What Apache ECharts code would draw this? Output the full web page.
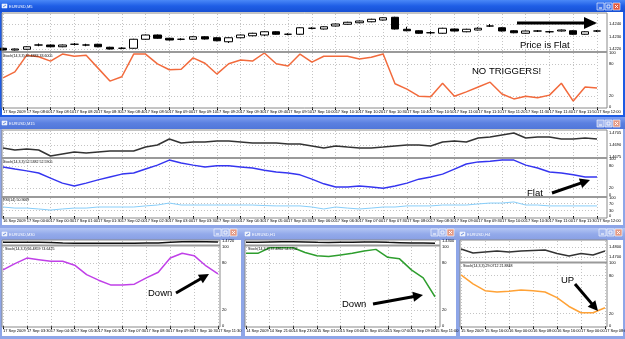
<!DOCTYPE html>
<html><head><meta charset="utf-8">
<script src="https://cdn.jsdelivr.net/npm/echarts@6/dist/echarts.min.js"></script>
<style>html,body{margin:0;padding:0;background:#fff;overflow:hidden}#c{width:625px;height:339px}</style>
</head><body><div id="c"></div>
<script>
// ---------- DATA ----------
const m5Ticks = ['17 Sep 2009','17 Sep 08:00','17 Sep 08:10','17 Sep 08:20','17 Sep 08:30','17 Sep 08:40','17 Sep 08:50','17 Sep 09:00','17 Sep 09:10','17 Sep 09:20','17 Sep 09:30','17 Sep 09:40','17 Sep 09:50','17 Sep 10:00','17 Sep 10:10','17 Sep 10:20','17 Sep 10:30','17 Sep 10:40','17 Sep 10:50','17 Sep 11:00','17 Sep 11:10','17 Sep 11:20','17 Sep 11:30','17 Sep 11:40','17 Sep 11:50','17 Sep 12:00'];
const m15Ticks = ['16 Sep 2009','17 Sep 00:00','17 Sep 00:30','17 Sep 01:00','17 Sep 01:30','17 Sep 02:00','17 Sep 02:30','17 Sep 03:00','17 Sep 03:30','17 Sep 04:00','17 Sep 04:30','17 Sep 05:00','17 Sep 05:30','17 Sep 06:00','17 Sep 06:30','17 Sep 07:00','17 Sep 07:30','17 Sep 08:00','17 Sep 08:30','17 Sep 09:00','17 Sep 09:30','17 Sep 10:00','17 Sep 10:30','17 Sep 11:00','17 Sep 11:30','17 Sep 12:00'];
const m30Ticks = ['17 Sep 2009','17 Sep 03:30','17 Sep 04:30','17 Sep 05:30','17 Sep 06:30','17 Sep 07:30','17 Sep 08:30','17 Sep 09:30','17 Sep 10:30','17 Sep 11:30'];
const h1Ticks = ['14 Sep 2009','14 Sep 21:00','14 Sep 23:00','15 Sep 01:00','15 Sep 03:00','15 Sep 05:00','15 Sep 07:00','15 Sep 09:00','15 Sep 11:00'];
const h4Ticks = ['15 Sep 2009','15 Sep 16:00','16 Sep 00:00','16 Sep 08:00','16 Sep 16:00','17 Sep 00:00','17 Sep 08:00'];

const m5Open  = [1.42206,1.42192,1.42198,1.42232,1.42232,1.42218,1.42238,1.42232,1.42238,1.42214,1.42206,1.42206,1.42278,1.42312,1.42286,1.42278,1.42278,1.42298,1.42290,1.42258,1.42290,1.42306,1.42312,1.42338,1.42318,1.42318,1.42366,1.42360,1.42384,1.42398,1.42410,1.42418,1.42432,1.42454,1.42358,1.42346,1.42330,1.42326,1.42360,1.42338,1.42352,1.42384,1.42370,1.42346,1.42326,1.42344,1.42338,1.42344,1.42346,1.42318,1.42344];
const m5Close = [1.42192,1.42200,1.42218,1.42232,1.42218,1.42232,1.42238,1.42232,1.42218,1.42200,1.42206,1.42278,1.42312,1.42286,1.42272,1.42278,1.42298,1.42280,1.42266,1.42290,1.42312,1.42326,1.42338,1.42318,1.42318,1.42370,1.42366,1.42378,1.42400,1.42414,1.42424,1.42438,1.42450,1.42360,1.42346,1.42326,1.42330,1.42366,1.42344,1.42358,1.42366,1.42384,1.42344,1.42330,1.42344,1.42344,1.42338,1.42352,1.42318,1.42338,1.42344];
const m5High  = [1.42210,1.42204,1.42222,1.42244,1.42236,1.42236,1.42248,1.42242,1.42242,1.42218,1.42214,1.42282,1.42316,1.42316,1.42290,1.42286,1.42302,1.42302,1.42294,1.42294,1.42316,1.42330,1.42342,1.42342,1.42326,1.42374,1.42374,1.42382,1.42404,1.42418,1.42428,1.42442,1.42454,1.42458,1.42378,1.42350,1.42342,1.42370,1.42364,1.42362,1.42374,1.42400,1.42374,1.42350,1.42348,1.42352,1.42346,1.42356,1.42350,1.42342,1.42352];
const m5Low   = [1.42188,1.42188,1.42194,1.42222,1.42214,1.42214,1.42228,1.42222,1.42214,1.42196,1.42198,1.42202,1.42274,1.42282,1.42268,1.42270,1.42274,1.42276,1.42262,1.42248,1.42286,1.42302,1.42304,1.42314,1.42310,1.42314,1.42358,1.42356,1.42380,1.42394,1.42406,1.42414,1.42428,1.42356,1.42342,1.42322,1.42318,1.42322,1.42340,1.42334,1.42348,1.42376,1.42340,1.42326,1.42322,1.42336,1.42326,1.42340,1.42314,1.42314,1.42336];
const m5Stoch = [54,65,96,93,85,98,94,96,72,48,56,98,98,80,69,70,91,81,61,80,87,85,100,80,76,98,83,94,94,94,89,92,98,43,33,20,19,44,20,28,37,46,24,15,20,17,22,44,11,37,35];

const m15Price = [1.46863,1.46838,1.4685,1.46838,1.46763,1.46788,1.46813,1.468,1.46813,1.46825,1.46825,1.46825,1.46875,1.469,1.46975,1.46925,1.46938,1.46938,1.4695,1.4695,1.46938,1.46925,1.46925,1.46925,1.46913,1.46913,1.46888,1.46863,1.46888,1.46875,1.46863,1.46863,1.46875,1.46888,1.469,1.469,1.46888,1.46938,1.4695,1.46938,1.46988,1.47,1.47025,1.4705,1.46988,1.47,1.47,1.46975,1.46975,1.46988,1.46975];
const m15Stoch = [78,72,67,61,47,33,25,33,42,50,58,61,72,83,97,89,83,78,81,81,78,75,69,64,61,56,44,31,22,22,25,22,19,25,33,44,50,58,72,86,92,94,97,97,83,75,64,61,56,50,50];
const m15Rsi = [50,44,44,39,33,39,44,44,50,50,50,50,56,61,72,61,61,61,61,61,61,61,58,56,56,56,50,39,50,44,39,44,50,50,56,56,56,61,61,61,67,72,72,78,61,61,56,56,56,56,56];

const m30Price = [1.4712,1.4712,1.4713,1.4712,1.4711,1.4708,1.4706,1.4705,1.4705,1.4705,1.4706,1.4706,1.4707,1.4708,1.4712,1.4716,1.4718,1.4716,1.4714];
const m30Stoch = [71,79,86,84,82,82,77,65,58,52,52,53,61,68,86,92,89,76,66];
const h1Price = [1.4292,1.4293,1.4295,1.4296,1.4296,1.4294,1.4292,1.4291,1.4292,1.4293,1.4294,1.4295,1.4292,1.4290,1.4288,1.4287,1.4286];
const h1Stoch = [92,92,99,99,99,93,89,88,90,92,95,97,87,85,71,61,37];
const h4Price = [1.478,1.474,1.475,1.476,1.475,1.476,1.4765,1.477,1.4735,1.471,1.4735,1.472,1.476];
const h4Stoch = [81,67,56,54,55,57,56,54,45,31,21,21,29];

// ---------- BUILD ----------
const FONT = '"Liberation Sans", Arial, sans-serif';
const GRIDC = '#c4c4c4';
function cats(ticks, n){ const a=[]; for(let i=0;i<n;i++) a.push(i%2===0 ? ticks[i/2] : ''); return a; }

const gridDefs = [
  {left:3, top:14, width:594, height:37},
  {left:3, top:53, width:594, height:54},
  {left:3, top:131, width:594, height:26},
  {left:3, top:159, width:594, height:36},
  {left:3, top:198, width:594, height:18},
  {left:3, top:241, width:215, height:3},
  {left:3, top:247, width:215, height:79},
  {left:246, top:241, width:189, height:3},
  {left:246, top:247, width:189, height:79},
  {left:461, top:241, width:144, height:21},
  {left:461, top:263, width:144, height:63}
];
const grids = gridDefs.map(g => Object.assign({outerBoundsMode:'none', containLabel:false, show:false}, g));

const xDefs = [[m5Ticks,51,false],[m5Ticks,51,true],[m15Ticks,51,false],[m15Ticks,51,false],[m15Ticks,51,true],
  [m30Ticks,19,false],[m30Ticks,19,true],[h1Ticks,17,false],[h1Ticks,17,true],[h4Ticks,13,false],[h4Ticks,13,true]];
const xAxes = xDefs.map((d,i)=>({
  type:'category', gridIndex:i, data:cats(d[0],d[1]), boundaryGap:false,
  axisLine:{show:false},
  axisTick:{show:d[2], interval:1, length:3, lineStyle:{color:'#000',width:1}},
  axisLabel:{show:d[2], interval:1, fontSize:4, color:'#000', align:'left', margin:3, fontFamily:FONT},
  splitLine:{show:true, interval:1, lineStyle:{color:GRIDC, type:[1,2], width:1}}
}));

// [min, max, labels, splits, offset, decimals]
const yDefs = [
  [1.42184, 1.4248, [1.4220,1.4230,1.4240], [1.4220,1.4230,1.4240], 10, 4],
  [0, 100, [0,20,80,100], [20,80], 10, 0],
  [1.4675, 1.47075, [1.4675,1.4690,1.4705], [1.4690,1.4705], 10, 4],
  [0, 100, [0,20,80,100], [20,80], 10, 0],
  [0, 100, [0,30,70,100], [30,70], 10, 0],
  [1.4700, 1.4722, [1.4720], [], 2, 4],
  [0, 100, [0,20,80,100], [20,80], 2, 0],
  [1.4280, 1.4302, [1.4300], [], 5, 4],
  [0, 100, [0,20,80,100], [20,80], 5, 0],
  [1.465, 1.486, [1.4700,1.4800], [1.4700,1.4800], 2, 4],
  [0, 100, [0,20,80,100], [20,80], 2, 0]
];
const yAxes = yDefs.map((d,i)=>({
  type:'value', gridIndex:i, position:'right', offset:d[4], min:d[0], max:d[1],
  axisLine:{show:false},
  axisTick:{show:false, customValues:d[3].length ? d[3] : undefined},
  axisLabel:{customValues:d[2], fontSize:4, color:'#000', margin:2, fontFamily:FONT,
    formatter: v => d[5] ? Number(v).toFixed(d[5]) : String(Math.round(v))},
  splitLine:{show:d[3].length>0, lineStyle:{color:GRIDC, type:[1,2], width:1}}
}));

function line(i, data, color, width){
  return {type:'line', xAxisIndex:i, yAxisIndex:i, data, symbol:'none', silent:true,
    lineStyle:{color, width}, itemStyle:{color}, animation:false};
}
const series = [
  {type:'candlestick', xAxisIndex:0, yAxisIndex:0, barWidth:8, silent:true, animation:false,
   data: m5Open.map((o,i)=>[o, m5Close[i], m5Low[i], m5High[i]]),
   itemStyle:{color:'#ffffff', color0:'#000000', borderColor:'#000000', borderColor0:'#000000', borderWidth:1}},
  line(1, m5Stoch, '#f26a3c', 1.5),
  line(2, m15Price, '#333333', 1.5),
  line(3, m15Stoch, '#3535f0', 1.5),
  line(4, m15Rsi, '#87cefa', 1),
  line(5, m30Price, '#111111', 1.5),
  line(6, m30Stoch, '#c040e8', 1.5),
  line(7, h1Price, '#111111', 1.5),
  line(8, h1Stoch, '#2e9e2e', 1.5),
  line(9, h4Price, '#333333', 1.5),
  line(10, h4Stoch, '#ffa236', 1.5)
];

// ---------- WINDOW CHROME / ANNOTATIONS ----------
const G = [];
const LG = (c) => new echarts.graphic.LinearGradient(0,0,0,1,c.map((col,k)=>({offset:k/(c.length-1), color:col})));
function R(x,y,w,h,style,z){ G.push({type:'rect', shape:{x,y,width:w,height:h}, style, z:z===undefined?-10:z, silent:true}); }
function T(x,y,text,font,fill,z,extra){ G.push({type:'text', x, y, z:z||60, silent:true, style:Object.assign({text, font, fill, verticalAlign:'middle'}, extra||{})}); }
function L(x1,y1,x2,y2,stroke,w,z){ G.push({type:'line', shape:{x1,y1,x2,y2}, style:{stroke, lineWidth:w}, z:z||40, silent:true}); }
function btns(x,y,active){
  const b = active ? '#3a70ea' : '#a2b6ee';
  const c = active ? '#e2583c' : '#e49a86';
  R(x,y,7,7,{fill:b, stroke:'#ffffff', lineWidth:0.6},5);
  L(x+2,y+5,x+5,y+5,'#fff',1,6);
  R(x+8,y,7,7,{fill:b, stroke:'#ffffff', lineWidth:0.6},5);
  R(x+10,y+2,3,3,{fill:'none', stroke:'#fff', lineWidth:0.8},6);
  R(x+16,y,7,7,{fill:c, stroke:'#ffffff', lineWidth:0.6},5);
  L(x+18,y+2,x+21,y+5,'#fff',0.9,6); L(x+21,y+2,x+18,y+5,'#fff',0.9,6);
}
function icon(x,y){ R(x,y,5,4,{fill:'#e8eefc', stroke:'#ffffff', lineWidth:0.5},5); L(x+1,y+3,x+4,y+1,'#3a66d0',0.7,6); }
function arrow(x1,y1,x2,y2,w,hl,hw){
  const dx=x2-x1, dy=y2-y1, Ln=Math.hypot(dx,dy), ux=dx/Ln, uy=dy/Ln;
  const bx=x2-ux*hl, by=y2-uy*hl, px=-uy, py=ux;
  G.push({type:'line', shape:{x1,y1,x2:bx+ux,y2:by+uy}, style:{stroke:'#000', lineWidth:w}, z:100, silent:true});
  G.push({type:'polygon', shape:{points:[[x2,y2],[bx+px*hw,by+py*hw],[bx-px*hw,by-py*hw]]}, style:{fill:'#000'}, z:100, silent:true});
}

// background (MDI)
R(0,0,625,339,{fill:'#8ea6e8'},-20);
// Window 1 (active)
R(0,0,625,117,{fill:'#1d5be3'},-15);
R(0,0,625,12,{fill:LG(['#4a88f7','#1f5ee6','#1750d4'])},-12);
R(2,12,621,103,{fill:'#ffffff'},-10);
icon(2,4); T(9,6.5,'EURUSD,M5','4px '+FONT,'#ffffff',60);
btns(597,3,true);
R(2,13,605,95,{fill:'none', stroke:'#8a8a8a', lineWidth:1},40);
L(2,52,607,52,'#9a9a9a',2,41);
// Window 2
R(0,117,625,110,{fill:'#8ea6e8'},-15);
R(0,117,625,12,{fill:LG(['#7f9ff0','#5b80e0','#5076da'])},-12);
R(2,129,621,96,{fill:'#ffffff'},-10);
icon(2,121); T(9,123.5,'EURUSD,M15','4px '+FONT,'#ffffff',60);
btns(597,120,false);
R(2,130,605,88,{fill:'none', stroke:'#8a8a8a', lineWidth:1},40);
L(2,158,607,158,'#9a9a9a',2,41);
L(2,197,607,197,'#9a9a9a',2,41);
// Bottom windows
[[0,243,'EURUSD,M30',220,214],[243,215,'EURUSD,H1',440,431],[458,167,'EURUSD,H4',607,599]].forEach(w=>{
  const [x,wd,name,fr,bx]=w;
  R(x,227,wd,112,{fill:'#8ea6e8'},-15);
  R(x,228,wd,12,{fill:LG(['#b4c6f4','#93aaea','#889fe4'])},-12);
  R(x+2,240,wd-4,96,{fill:'#ffffff'},-10);
  icon(x+2,232); T(x+9,234.5,name,'4px '+FONT,'#ffffff',60);
  btns(bx,229,false);
  R(x+2,240,fr-x-2,87,{fill:'none', stroke:'#8a8a8a', lineWidth:1},40);
});
L(2,245.5,220,245.5,'#9a9a9a',2,41);
L(245,245.5,440,245.5,'#9a9a9a',2,41);
L(460,262.5,607,262.5,'#9a9a9a',2,41);

// indicator captions
const cap = '3.6px '+FONT;
T(3,55.5,'Stoch(14,3,3) 35.4883 33.6005',cap,'#000',60);
T(3,161.5,'Stoch(14,3,3) 52.5382 52.5905',cap,'#000',60);
T(3,200,'RSI(14) 50.9069',cap,'#000',60);
T(5,249,'Stoch(14,3,3) 66.4859 74.6425',cap,'#000',60);
T(248,249,'Stoch(14,3,3) 37.4862 54.6702',cap,'#000',60);
T(463,265.5,'Stoch(14,3,3) 29.0712 21.8848',cap,'#000',60);

// annotations
const AF = '9.5px '+FONT;
T(520,45,'Price is Flat',AF,'#000',100);
T(472,71,'NO TRIGGERS!',AF,'#000',100);
T(527,193,'Flat',AF,'#000',100);
T(148,293,'Down',AF,'#000',100);
T(342,304,'Down',AF,'#000',100);
T(561,280,'UP',AF,'#000',100);
arrow(517,23,597,23,3,13,6);
arrow(552,193,590,180,3,10,5);
arrow(176,293,209,274,3,10,5);
arrow(373,304,423,295,3,10,5);
arrow(575,284,598,311,3,10,5);

const chart = echarts.init(document.getElementById('c'), null, {renderer:'canvas', width:625, height:339});
chart.setOption({
  animation:false,
  backgroundColor:'#8ea6e8',
  grid:grids, xAxis:xAxes, yAxis:yAxes, series,
  graphic:{elements:G}
});
</script></body></html>
